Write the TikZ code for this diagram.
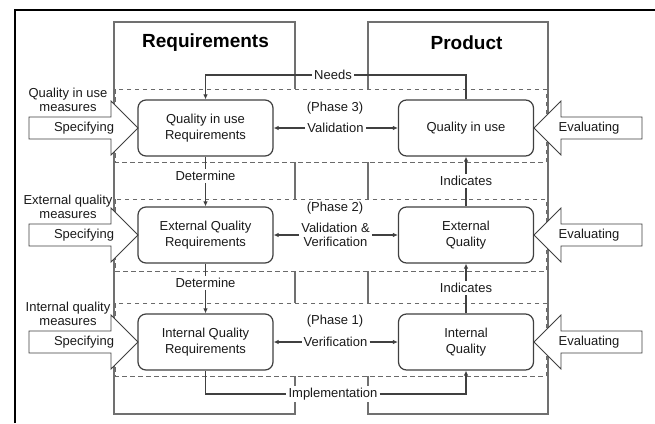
\documentclass[tikz,border=0pt]{standalone}
\usepackage{fontspec}
\setmainfont{Liberation Sans}
\usetikzlibrary{arrows.meta}
\definecolor{colgray}{HTML}{707070}
\definecolor{dashgray}{HTML}{6A6A6A}
\definecolor{linegray}{HTML}{404040}
\definecolor{txt}{HTML}{1A1A1A}
\begin{document}
\begin{tikzpicture}[x=1pt,y=-1pt,
  colbox/.style={draw=colgray, line width=1.2pt},
  phase/.style={draw=dashgray, dash pattern=on 4.5pt off 3.5pt, line width=0.9pt, fill=white},
  qbox/.style={draw=linegray, line width=1.2pt, rounded corners=8pt, minimum width=135pt, minimum height=56pt, inner sep=2pt, align=center, font=\fontsize{13}{16}\selectfont, text=txt},
  lbl/.style={fill=white, inner sep=2pt, align=center, font=\fontsize{13}{14}\selectfont, text=txt},
  plain/.style={inner sep=1pt, align=center, font=\fontsize{13}{14}\selectfont, text=txt},
  title/.style={inner sep=1pt, font=\fontsize{19}{22}\selectfont\bfseries, text=black},
  conn/.style={draw=linegray, line width=1.2pt},
  tip/.style={-{Latex[length=5pt,width=4.5pt]}},
  blockarrow/.style={draw=linegray, line width=0.8pt, fill=white, line join=miter}
]
\fill[white] (0,0) rectangle (655,423);
\useasboundingbox (0,0) rectangle (655,423);
% outer frame (left and top only)
\draw[black, line width=2pt] (15,423) -- (15,10) -- (655,10);
% columns
\draw[colbox] (114,22) rectangle (295,414);
\draw[colbox] (368,22) rectangle (548,414);
\node[title] (treq) at (205.5,43) {Requirements};
\node[title] (tprod) at (466.5,43) {Product};
% phase bands
\draw[phase] (115,89) rectangle (546,162);
\draw[phase] (115,199) rectangle (546,271);
\draw[phase] (115,303) rectangle (546,376);
% block arrows
\foreach \dy/\nm in {0/a,107/b,214/c}{
  \draw[blockarrow] (29,117+\dy) -- (111,117+\dy) -- (111,101+\dy) -- (138,128+\dy) -- (111,155+\dy) -- (111,139+\dy) -- (29,139+\dy) -- cycle;
  \node[plain] (spec\nm) at (84,128+\dy) {Specifying};
  \draw[blockarrow] (642,117+\dy) -- (561,117+\dy) -- (561,101+\dy) -- (534,128+\dy) -- (561,155+\dy) -- (561,139+\dy) -- (642,139+\dy) -- cycle;
  \node[plain] (eval\nm) at (589,128+\dy) {Evaluating};
}
% measure labels
\node[plain] (m3) at (68,100) {Quality in use\\measures};
\node[plain] (m2) at (68,207) {External quality\\measures};
\node[plain] (m1) at (68,314) {Internal quality\\measures};
% quality boxes
\node[qbox] (qr) at (205.5,128) {Quality in use\\Requirements};
\node[qbox] (q)  at (466,128) {Quality in use};
\node[qbox] (er) at (205.5,235) {External Quality\\Requirements};
\node[qbox] (e)  at (466,235) {External\\Quality};
\node[qbox] (ir) at (205.5,342) {Internal Quality\\Requirements};
\node[qbox] (i)  at (466,342) {Internal\\Quality};
% phase labels
\node[plain] (p3) at (335,108) {(Phase 3)};
\node[plain] (p2) at (335,208) {(Phase 2)};
\node[plain] (p1) at (335,321) {(Phase 1)};
% Needs
\node[lbl] (needs) at (333,75) {Needs};
\draw[conn] (q.north) |- (needs.east);
\draw[conn,tip] (needs.west) -| (qr.north);
% Validation / Verification
\node[lbl] (val3) at (335.5,128) {Validation};
\draw[conn,tip] (val3.west) -- (qr.east);
\draw[conn,tip] (val3.east) -- (q.west);
\node[lbl] (val2) at (335.5,235) {Validation \&\\Verification};
\draw[conn,tip] (val2.west) -- (er.east);
\draw[conn,tip] (val2.east) -- (e.west);
\node[lbl] (val1) at (335.5,342) {Verification};
\draw[conn,tip] (val1.west) -- (ir.east);
\draw[conn,tip] (val1.east) -- (i.west);
% Determine
\node[lbl] (det1) at (205.5,176) {Determine};
\draw[conn] (qr.south) -- (det1.north);
\draw[conn,tip] (det1.south) -- (er.north);
\node[lbl] (det2) at (205.5,283) {Determine};
\draw[conn] (er.south) -- (det2.north);
\draw[conn,tip] (det2.south) -- (ir.north);
% Indicates
\node[lbl] (ind1) at (466,181) {Indicates};
\draw[conn] (e.north) -- (ind1.south);
\draw[conn,tip] (ind1.north) -- (q.south);
\node[lbl] (ind2) at (466,288) {Indicates};
\draw[conn] (i.north) -- (ind2.south);
\draw[conn,tip] (ind2.north) -- (e.south);
% Implementation
\node[lbl] (impl) at (333,394) {Implementation};
\draw[conn] (ir.south) |- (impl.west);
\draw[conn,tip] (impl.east) -| (i.south);
\end{tikzpicture}
\end{document}
